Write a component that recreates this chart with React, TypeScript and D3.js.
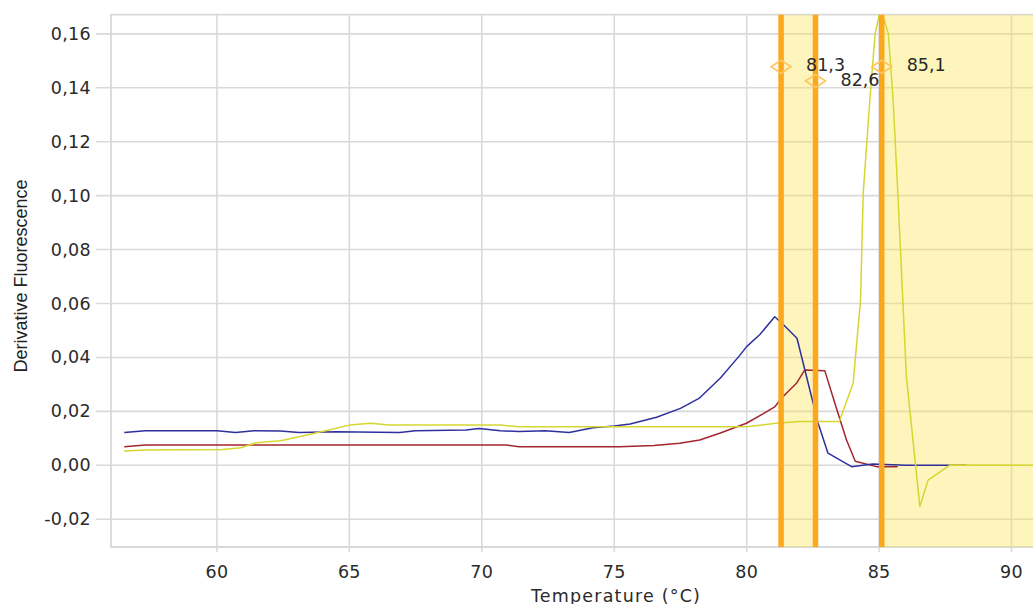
import React, { useEffect, useRef } from 'react';
import * as d3 from 'd3';

// melt curve derivative data, [temperature °C, -dF/dT]
const blueCurve: [number, number][] = [
  [56.5, 0.0122], [57.3, 0.0128], [60.0, 0.0128], [60.7, 0.0122], [61.4, 0.0128],
  [62.4, 0.0127], [63.1, 0.0122], [64.5, 0.0124], [66.9, 0.0122], [67.5, 0.0128],
  [69.4, 0.0131], [69.9, 0.0136], [70.7, 0.0128], [71.4, 0.0125], [72.4, 0.0128],
  [73.3, 0.0122], [74.2, 0.0139], [75.0, 0.0146], [75.6, 0.0153], [76.6, 0.0178],
  [77.5, 0.0211], [78.2, 0.0248], [79.0, 0.0323], [79.7, 0.0403], [80.0, 0.044],
  [80.5, 0.0485], [81.06, 0.0551], [81.4, 0.052], [81.9, 0.0471], [82.45, 0.0254],
  [82.7, 0.0156], [83.07, 0.0045], [83.96, -0.0005], [84.76, 0.0005], [86.0, 0.0],
  [88.3, 0.0]
];

const redCurve: [number, number][] = [
  [56.5, 0.0069], [57.3, 0.0075], [70.9, 0.0075], [71.4, 0.0069], [75.2, 0.0069],
  [76.5, 0.0073], [77.47, 0.0082], [78.23, 0.0094], [78.98, 0.0119], [79.99, 0.0156],
  [80.6, 0.019], [81.06, 0.0217], [81.37, 0.0254], [81.88, 0.0304], [82.19, 0.0353],
  [82.95, 0.0351], [83.33, 0.023], [83.77, 0.0094], [84.1, 0.0015], [84.9, -0.0005],
  [85.7, -0.0005]
];

const yellowCurve: [number, number][] = [
  [56.5, 0.0053], [57.3, 0.0057], [60.2, 0.0059], [60.9, 0.0065], [61.5, 0.0084],
  [62.4, 0.0091], [63.1, 0.0106], [64.1, 0.0128], [65.0, 0.0149], [65.8, 0.0156],
  [66.5, 0.0149], [70.7, 0.0149], [71.4, 0.0143], [80.0, 0.0143], [81.1, 0.0156],
  [82.0, 0.0162], [83.5, 0.0162], [84.02, 0.0304], [84.3, 0.0613], [84.4, 0.1008],
  [84.65, 0.1354], [84.85, 0.16], [85.0, 0.1668], [85.2, 0.165], [85.35, 0.16],
  [85.53, 0.1354], [85.72, 0.0984], [86.03, 0.0329], [86.54, -0.0153], [86.85, -0.0055],
  [87.67, 0.0001], [91.0, 0.0]
];

const series = [
  { name: 'red', color: '#a3262e', data: redCurve },
  { name: 'blue', color: '#2f2f9f', data: blueCurve },
  { name: 'yellow', color: '#d6d630', data: yellowCurve }
];

// melt peaks (Tm) and the diamond marker heights
const peakTemps = [81.3, 82.6, 85.1];
const peakMarkerY = [0.1478, 0.1425, 0.1478];
const peakLabels = ['81,3', '82,6', '85,1'];

const xTicks = [60, 65, 70, 75, 80, 85, 90];
const yTicks = [-0.02, 0, 0.02, 0.04, 0.06, 0.08, 0.1, 0.12, 0.14, 0.16];

const MeltCurveChart = () => {
  const svgRef = useRef<SVGSVGElement>(null);

  useEffect(() => {
    if (!svgRef.current) return;
    d3.select(svgRef.current).selectAll('*').remove();

    const width = 1033;
    const height = 604;
    const left = 111;
    const top = 14.7;
    const bottom = 547;
    const right = 1038;

    const svg = d3.select(svgRef.current)
      .attr('width', width)
      .attr('height', height);

    svg.append('rect').attr('width', width).attr('height', height).attr('fill', '#fff');

    const x = d3.scaleLinear().domain([56, 91]).range([left, right]);
    const y = d3.scaleLinear().domain([-0.0303, 0.1671]).range([bottom, top]);

    svg.append('defs').append('clipPath').attr('id', 'plot-clip')
      .append('rect')
      .attr('x', left).attr('y', top)
      .attr('width', right - left).attr('height', bottom - top);

    const gridColor = '#d9d9d9';

    // grid + tick stubs
    svg.append('g').selectAll('line')
      .data(yTicks)
      .join('line')
      .attr('x1', left - 15).attr('x2', right)
      .attr('y1', d => y(d)).attr('y2', d => y(d))
      .attr('stroke', gridColor).attr('stroke-width', 1.6);

    svg.append('g').selectAll('line')
      .data(xTicks)
      .join('line')
      .attr('x1', d => x(d)).attr('x2', d => x(d))
      .attr('y1', top).attr('y2', bottom + 5)
      .attr('stroke', gridColor).attr('stroke-width', 1.6);

    // plot border
    svg.append('path')
      .attr('d', `M${right},${top}H${left}V${bottom}H${right}`)
      .attr('fill', 'none')
      .attr('stroke', gridColor)
      .attr('stroke-width', 1.8);

    // shaded melt regions
    const shade = svg.append('g').attr('clip-path', 'url(#plot-clip)');
    shade.append('rect')
      .attr('x', x(peakTemps[0])).attr('y', top)
      .attr('width', x(peakTemps[1]) - x(peakTemps[0])).attr('height', bottom - top)
      .attr('fill', '#fae650').attr('fill-opacity', 0.38);
    shade.append('rect')
      .attr('x', x(peakTemps[2])).attr('y', top)
      .attr('width', right - x(peakTemps[2])).attr('height', bottom - top)
      .attr('fill', '#fae650').attr('fill-opacity', 0.38);

    // curves
    const line = d3.line<[number, number]>()
      .x(d => x(d[0]))
      .y(d => y(d[1]));

    const curves = svg.append('g').attr('clip-path', 'url(#plot-clip)');
    series.forEach(s => {
      curves.append('path')
        .datum(s.data)
        .attr('d', line)
        .attr('fill', 'none')
        .attr('stroke', s.color)
        .attr('stroke-width', 1.5)
        .attr('stroke-linejoin', 'round');
    });

    // Tm lines
    svg.append('g').selectAll('line')
      .data(peakTemps)
      .join('line')
      .attr('x1', d => x(d)).attr('x2', d => x(d))
      .attr('y1', top).attr('y2', bottom)
      .attr('stroke', '#fba81e')
      .attr('stroke-width', 5.5);

    // diamonds + labels
    peakTemps.forEach((t, i) => {
      const cx = x(t);
      const cy = y(peakMarkerY[i]);
      svg.append('path')
        .attr('d', `M${cx - 10},${cy}L${cx},${cy - 6.5}L${cx + 10},${cy}L${cx},${cy + 6.5}Z`)
        .attr('fill', 'none')
        .attr('stroke', '#ffc45c')
        .attr('stroke-width', 1.6);
      svg.append('text')
        .attr('x', cx + 25)
        .attr('y', cy - 1.5)
        .attr('dominant-baseline', 'central')
        .attr('font-family', "'DejaVu Sans', Verdana, sans-serif")
        .attr('font-size', '17.5px')
        .attr('fill', '#2a2a2a')
        .text(peakLabels[i]);
    });

    const fmt = (v: number) => d3.format('.2f')(v).replace('.', ',').replace('−', '-');

    // y tick labels
    svg.append('g').selectAll('text')
      .data(yTicks)
      .join('text')
      .attr('x', 91)
      .attr('y', d => y(d))
      .attr('text-anchor', 'end')
      .attr('dominant-baseline', 'central')
      .attr('font-family', "'DejaVu Sans', Verdana, sans-serif")
      .attr('font-size', '17.5px')
      .attr('letter-spacing', '0.3px')
      .attr('fill', '#2a2a2a')
      .text(d => fmt(d));

    // x tick labels
    svg.append('g').selectAll('text')
      .data(xTicks)
      .join('text')
      .attr('x', d => x(d))
      .attr('y', 572)
      .attr('text-anchor', 'middle')
      .attr('dominant-baseline', 'central')
      .attr('font-family', "'DejaVu Sans', Verdana, sans-serif")
      .attr('font-size', '17.5px')
      .attr('letter-spacing', '0.3px')
      .attr('fill', '#2a2a2a')
      .text(d => d);

    // axis titles
    svg.append('text')
      .attr('x', 616)
      .attr('y', 596)
      .attr('text-anchor', 'middle')
      .attr('dominant-baseline', 'central')
      .attr('font-family', "'DejaVu Sans', Verdana, sans-serif")
      .attr('font-size', '17.5px')
      .attr('letter-spacing', '1.2px')
      .attr('fill', '#2a2a2a')
      .text('Temperature (°C)');

    svg.append('text')
      .attr('transform', 'translate(21, 276) rotate(-90)')
      .attr('text-anchor', 'middle')
      .attr('dominant-baseline', 'central')
      .attr('font-family', "'Liberation Sans', Arial, sans-serif")
      .attr('font-size', '18px')
      .attr('fill', '#222')
      .text('Derivative Fluorescence');
  }, []);

  return (
    <div style={{ position: 'fixed', left: 0, top: 0, width: 1033, height: 604, overflow: 'hidden' }}>
      <svg ref={svgRef} style={{ display: 'block' }}></svg>
    </div>
  );
};

export default MeltCurveChart;
